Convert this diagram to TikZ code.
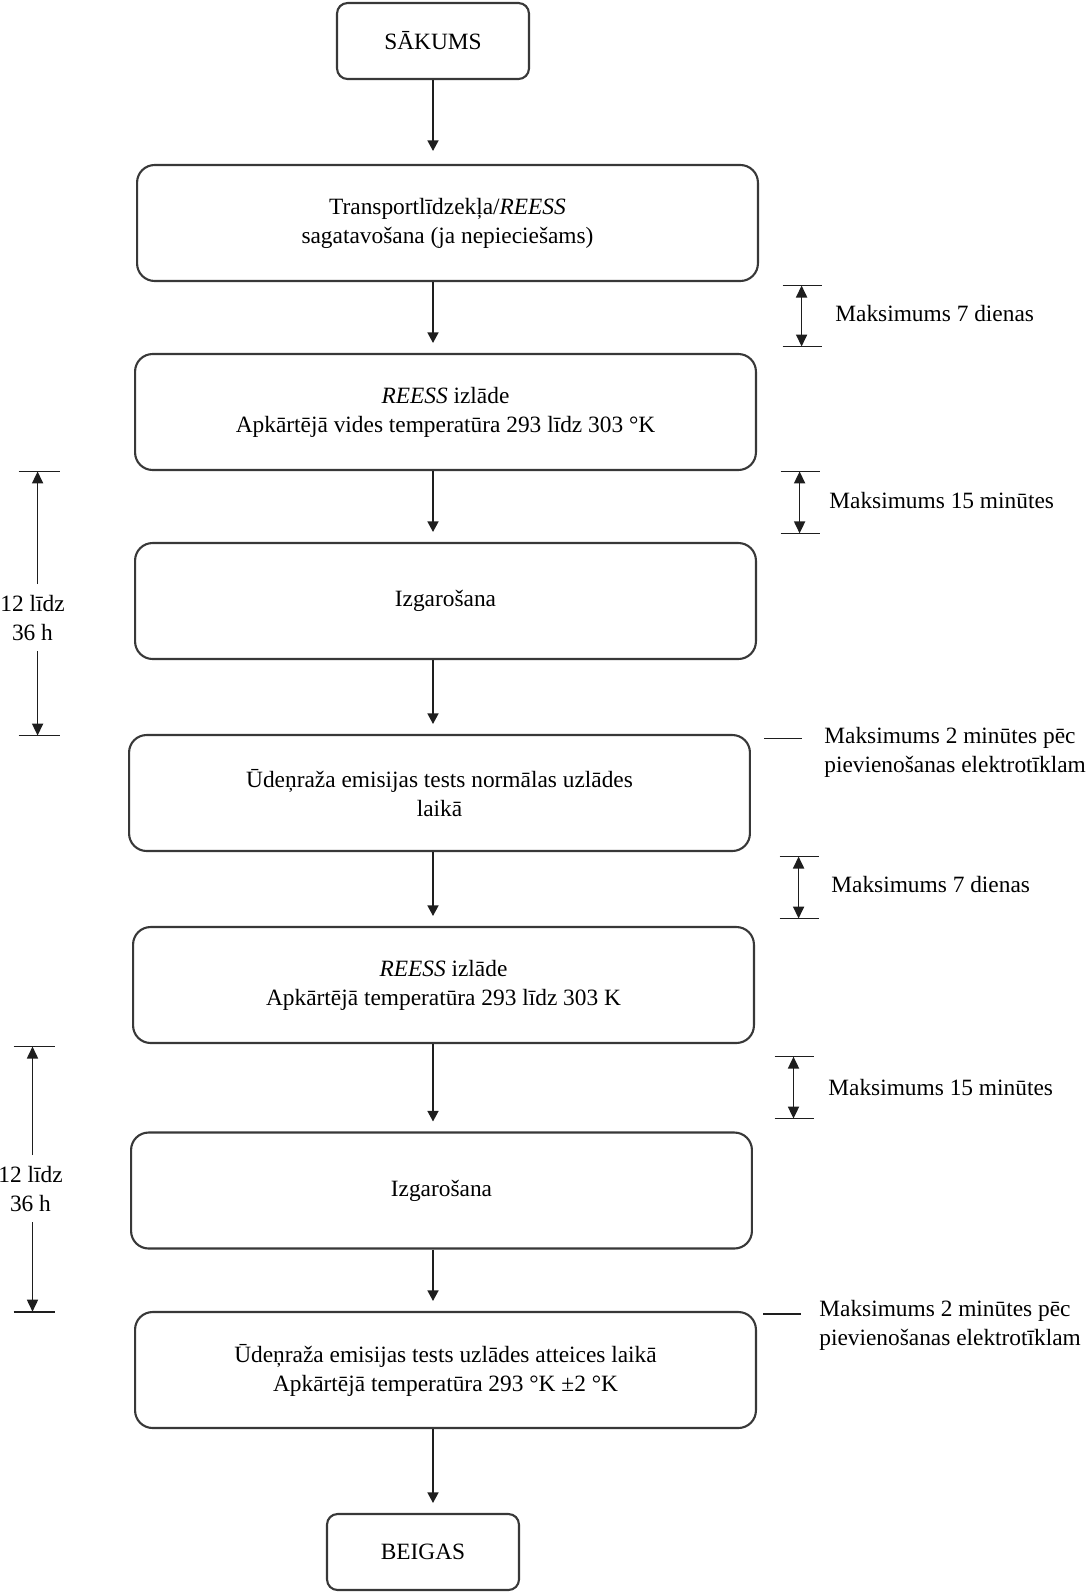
\documentclass[tikz,border=0pt]{standalone}
\usepackage{fontspec}
\setmainfont{Liberation Serif}
\usepackage{xcolor}
\definecolor{frameGray}{HTML}{383838}
\definecolor{lineDark}{HTML}{1E1E1E}
\usepackage{tikz}
\usetikzlibrary{arrows.meta}
\tikzset{
    % Base style for all text
    flow base/.style={
        font=\fontsize{13.3pt}{16.5pt}\selectfont,
        align=center,
        text=black,
    },
    % Start/End boxes - small rounded rectangle
    terminal/.style={
        flow base,
        rectangle,
        rounded corners=6pt,
        draw=frameGray,
        line width=1.2pt,
        minimum width=3.84cm,
        minimum height=1.52cm,
    },
    % Step boxes - wide rounded rectangle
    process/.style={
        flow base,
        rectangle,
        rounded corners=10pt,
        draw=frameGray,
        line width=1.2pt,
        minimum width=12.42cm,
        minimum height=2.32cm,
    },
    % Flow arrow between boxes
    arrow/.style={
        -{Triangle[length=2.1mm, width=2.2mm]},
        line width=0.8pt,
        draw=lineDark,
        shorten >=0.2cm,
    },
    % Time limit arrow between two ticks
    dim arrow/.style={
        {Triangle[length=2.4mm, width=2.2mm]}-{Triangle[length=2.4mm, width=2.2mm]},
        line width=1pt,
        draw=lineDark,
    },
    % Single arrow of a duration span
    span arrow/.style={
        -{Triangle[length=2.4mm, width=2.2mm]},
        line width=0.9pt,
        draw=lineDark,
    },
    % Tick lines
    tick line/.style={
        line width=0.9pt,
        draw=lineDark,
    },
    % Text beside the time limits
    limit text/.style={
        flow base,
        anchor=west,
        align=left,
        inner sep=0pt,
    },
    % Text of a duration span
    span text/.style={
        flow base,
        inner sep=6pt,
    },
}

\begin{document}
\begin{tikzpicture}[x=0.02cm, y=-0.02cm]
    \useasboundingbox (0,0) rectangle (1086,1593);

    \node (start) [terminal] at (433,41) {SĀKUMS};
    \node (prep) [process] at (447.5,223) {Transportlīdzekļa/\textit{REESS}\\sagatavošana (ja nepieciešams)};
    \node (charge1) [process] at (445.5,412) {\textit{REESS} izlāde\\Apkārtējā vides temperatūra 293 līdz 303 °K};
    \node (evap1) [process] at (445.5,601) {Izgarošana};
    \node (test1) [process] at (439.5,793) {Ūdeņraža emisijas tests normālas uzlādes\\laikā};
    \node (charge2) [process] at (443.5,985) {\textit{REESS} izlāde\\Apkārtējā temperatūra 293 līdz 303 K};
    \node (evap2) [process] at (441.5,1190.5) {Izgarošana};
    \node (test2) [process] at (445.5,1370) {Ūdeņraža emisijas tests uzlādes atteices laikā\\Apkārtējā temperatūra 293 °K ±2 °K};
    \node (end) [terminal] at (423,1552) {BEIGAS};

    \draw [arrow, shorten >=0.26cm] (start.south) -- (prep.north -| start);
    \draw [arrow] (prep.south -| start) -- (charge1.north -| start);
    \draw [arrow] (charge1.south -| start) -- (evap1.north -| start);
    \draw [arrow] (evap1.south -| start) -- (test1.north -| start);
    \draw [arrow] (test1.south -| start) -- (charge2.north -| start);
    \draw [arrow] (charge2.south -| start) -- (evap2.north -| start);
    \draw [arrow] (evap2.south -| start) -- (test2.north -| start);
    \draw [arrow] (test2.south -| start) -- (end.north -| start);

    % right-hand time limits
    \coordinate (lim1a) at (801.6,285.5);
    \coordinate (lim1b) at (801.6,346.5);
    \draw [tick line] (lim1a) ++(-19,0) -- ++(39,0);
    \draw [tick line] (lim1b) ++(-19,0) -- ++(39,0);
    \draw [dim arrow] (lim1a) -- (lim1b);
    \node (lim1text) [limit text] at (835,313) {Maksimums 7 dienas};

    \coordinate (lim2a) at (799.6,471.4);
    \coordinate (lim2b) at (799.6,533.4);
    \draw [tick line] (lim2a) ++(-19,0) -- ++(39,0);
    \draw [tick line] (lim2b) ++(-19,0) -- ++(39,0);
    \draw [dim arrow] (lim2a) -- (lim2b);
    \node (lim2text) [limit text] at (829,500) {Maksimums 15 minūtes};

    \coordinate (lim3) at (764,738.6);
    \draw [tick line] (lim3) -- ++(38,0);
    \node (lim3text) [limit text] at (824,752) {Maksimums 2 minūtes pēc\\pievienošanas elektrotīklam};

    \coordinate (lim4a) at (798.6,856.5);
    \coordinate (lim4b) at (798.6,918.5);
    \draw [tick line] (lim4a) ++(-19,0) -- ++(39,0);
    \draw [tick line] (lim4b) ++(-19,0) -- ++(39,0);
    \draw [dim arrow] (lim4a) -- (lim4b);
    \node (lim4text) [limit text] at (831,884) {Maksimums 7 dienas};

    \coordinate (lim5a) at (793.5,1056.6);
    \coordinate (lim5b) at (793.5,1118.6);
    \draw [tick line] (lim5a) ++(-19,0) -- ++(39,0);
    \draw [tick line] (lim5b) ++(-19,0) -- ++(39,0);
    \draw [dim arrow] (lim5a) -- (lim5b);
    \node (lim5text) [limit text] at (828,1087) {Maksimums 15 minūtes};

    \coordinate (lim6) at (763,1313.7);
    \draw [tick line] (lim6) -- ++(38,0);
    \node (lim6text) [limit text] at (819,1325) {Maksimums 2 minūtes pēc\\pievienošanas elektrotīklam};

    % left-hand durations
    \coordinate (span1a) at (37.6,471.4);
    \coordinate (span1b) at (37.6,735.6);
    \draw [tick line] (span1a) ++(-19,0) -- ++(41,0);
    \draw [tick line] (span1b) ++(-19,0) -- ++(41,0);
    \node (span1) [span text] at (32.5,617.7) {12 līdz\\36 h};
    \draw [span arrow] (span1.north -| span1a) -- (span1a);
    \draw [span arrow] (span1.south -| span1b) -- (span1b);

    \coordinate (span2a) at (32.5,1046.5);
    \coordinate (span2b) at (32.5,1311.7);
    \draw [tick line] (span2a) ++(-19,0) -- ++(41,0);
    \draw [tick line] (span2b) ++(-19,0) -- ++(41,0);
    \node (span2) [span text] at (30.5,1188.7) {12 līdz\\36 h};
    \draw [span arrow] (span2.north -| span2a) -- (span2a);
    \draw [span arrow] (span2.south -| span2b) -- (span2b);
\end{tikzpicture}
\end{document}
